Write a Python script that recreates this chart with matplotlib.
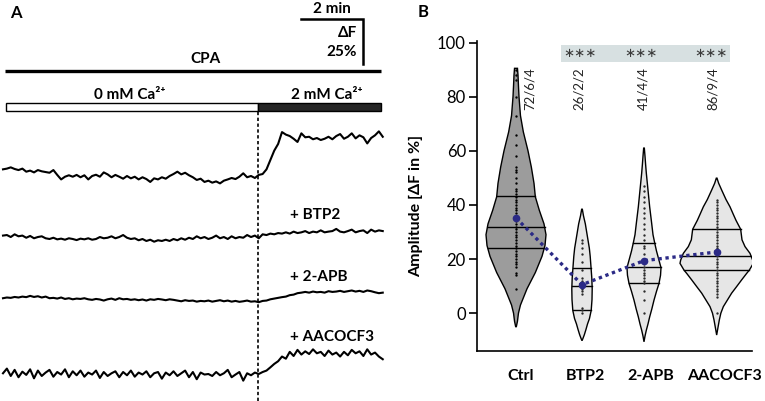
import numpy as np
import matplotlib
matplotlib.use('Agg')
import matplotlib.pyplot as plt
from matplotlib.patches import Rectangle

plt.rcParams['font.family'] = ['Lato', 'DejaVu Sans']

# ---------------- panel A: example traces (dF in %, sampled every 0.125 min)
dt = 0.125
ca_switch = 8.235  # min

trace_ctrl = [0, 0.4, 1.1, 0.2, -0.4, 0.4, -1.3, -0.7, -1.7, -0.4, -1.1, -1.5, -1.9, -0.4, -3.1,
              -5.6, -4.1, -3.3, -4.1, -3.1, -4.4, -3.3, -5.6, -3.7, -3.0, -4.1, -1.7, -2.8, -4.4,
              -3.1, -4.1, -5.2, -3.7, -5.0, -4.1, -5.6, -4.4, -5.4, -7.0, -5.0, -5.6, -4.4, -5.2,
              -3.7, -2.6, -1.3, -2.8, -1.9, -3.3, -4.4, -5.9, -5.2, -7.0, -6.3, -7.4, -6.7, -7.8,
              -6.3, -5.6, -4.8, -5.4, -4.1, -2.2, -4.4, -3.7, -4.8, -3.1, -2.6, 0, 5.2, 10.4, 14.1,
              20.7, 19.3, 18.5, 17.0, 15.2, 20.0, 17.8, 18.1, 16.7, 17.4, 16.3, 17.0, 18.1, 16.7,
              18.5, 19.6, 17.0, 18.1, 20.0, 17.2, 18.9, 17.8, 14.4, 17.4, 18.9, 21.1, 18.1]
trace_btp2 = [0.6, 0.9, -0.2, 1.3, 0.2, 0.6, -0.6, 0.4, -0.9, -0.2, 0.2, -0.9, -1.3, -0.6, -1.5,
              -1.1, -1.7, -0.9, -1.3, -1.9, -1.1, -1.5, -0.9, -1.7, -1.3, -0.2, -0.9, -0.6, 0.2,
              -0.9, -0.2, 0.9, -0.6, -1.3, -0.9, -2.0, -1.3, -2.4, -1.7, -2.8, -2.0, -2.4, -1.7,
              -2.4, -1.3, -2.0, -0.9, -1.7, -0.6, -1.3, 0.2, -0.9, -0.2, -1.3, -0.6, 0.6, -0.9,
              -0.2, -1.3, 0.2, -0.9, -0.2, -0.6, 0.9, -0.2, 0.6, -0.9, 1.3, 0.9, 1.7, 1.3, 2.0,
              1.7, 2.4, 1.7, 2.8, 2.0, 2.4, 3.1, 2.0, 2.8, 2.4, 3.5, 2.4, 2.8, 3.1, 4.3, 2.8, 2.4,
              3.1, 3.9, 2.4, 3.1, 3.5, 2.0, 3.9, 2.8, 3.5, 3.1]
trace_2apb = [0, 0.4, 0.2, 0.7, 0.4, 0.9, 0.6, 1.3, 0.7, 1.1, 0.4, 0.9, 0, 0.2, -0.2, 0.4, -0.4,
              0, -0.6, -0.2, -0.4, 0, -0.6, -0.9, -0.4, -0.7, -1.3, -0.6, -0.2, -0.9, 0, -0.6,
              -0.4, -0.9, -0.6, -1.1, -0.7, -1.3, -0.6, -0.9, -0.4, -0.7, -1.1, -0.6, -0.9, -1.3,
              -1.7, -1.1, -1.5, -1.3, -1.9, -1.5, -1.7, -1.3, -1.9, -1.5, -1.1, -1.7, -1.3, -1.9,
              -1.5, -2.0, -1.7, -1.3, -1.9, -1.7, -2.2, -1.5, -1.3, -0.6, -0.2, 0.2, 0.6, 0.9,
              1.7, 2.0, 2.8, 3.1, 3.5, 3.1, 3.7, 3.3, 3.5, 3.1, 3.9, 3.5, 3.7, 4.1, 3.5, 3.9, 4.3,
              3.7, 4.1, 3.5, 4.3, 3.9, 3.3, 2.8, 3.1]
trace_aacocf3 = [0, 2.6, -1.5, 1.9, -2.2, 0.9, -0.9, 2.2, -2.8, 1.5, -1.5, 0.4, 1.9, -1.9, 0.7,
                 -0.7, 2.2, -2.2, 1.1, -1.1, 1.5, -1.9, 0.4, -0.7, 1.5, -2.6, 0.7, -1.5, 0, 1.1,
                 -2.2, 0.7, -1.1, 1.5, -1.9, 0.4, -0.7, 1.1, -2.2, 0, 0.7, -3.0, 0.4, -1.1, 1.1,
                 -1.5, 0, 1.5, -2.2, 0.7, -3.3, 0.4, -0.7, -0.4, -1.5, 0.7, -1.1, 0, 1.9, -2.2,
                 -0.7, 0.7, -4.1, 0, -1.1, 0.4, -0.4, 0.7, 1.5, 3.3, 5.2, 6.7, 9.3, 8.1, 11.9, 9.6,
                 13.0, 10.4, 12.2, 10.7, 13.3, 11.1, 11.9, 9.6, 12.6, 10.4, 11.5, 9.3, 11.9, 10.0,
                 13.0, 11.1, 12.2, 9.6, 13.3, 10.4, 11.5, 9.3, 7.8]
trace_labels = ['', '+ BTP2', '+ 2-APB', '+ AACOCF3']

# ---------------- panel B: amplitudes
groups = ['Ctrl', 'BTP2', '2-APB', 'AACOCF3']
n_labels = ['72/6/4', '26/2/2', '41/4/4', '86/9/4']
means = [35.2, 10.5, 19.4, 22.6]
q1 = [24.0, 1.2, 11.0, 15.9]
medians = [32.0, 10.0, 16.9, 21.1]
q3 = [43.2, 16.8, 26.0, 31.0]

# violin outlines: level (%) and half width
ctrl_y = [90.5, 88, 84, 80, 73, 67, 60, 54, 48, 43, 38, 33, 29, 25, 21, 15, 9, 3, 0, -3, -5]
ctrl_w = [0.022, 0.03, 0.037, 0.045, 0.067, 0.11, 0.18, 0.23, 0.27, 0.29, 0.35, 0.42, 0.45,
          0.435, 0.39, 0.29, 0.165, 0.067, 0.037, 0.022, 0.005]
btp2_y = [38.4, 36, 33, 30, 27, 24, 21, 17, 13, 9, 5, 1, -2, -4, -6, -8, -9.5, -10.2]
btp2_w = [0.005, 0.022, 0.05, 0.07, 0.09, 0.11, 0.123, 0.135, 0.147, 0.153, 0.15, 0.138,
          0.112, 0.083, 0.06, 0.035, 0.012, 0.0]
apb_y = [61, 58, 55, 51.7, 45.5, 39.3, 33.2, 29, 26, 23, 20.9, 16.8, 14, 11, 8, 4.8, 1.5, -1.4,
         -4, -6.3, -8.5, -10.6]
apb_w = [0.005, 0.015, 0.024, 0.035, 0.06, 0.085, 0.115, 0.135, 0.16, 0.187, 0.21, 0.255, 0.248,
         0.225, 0.187, 0.15, 0.117, 0.085, 0.06, 0.035, 0.015, 0.0]
aac_y = [49.9, 48, 45.5, 42, 39.3, 36.5, 34.3, 31, 27.1, 24.6, 22.1, 19.6, 18.4, 15.9, 14.7,
         12.3, 9.5, 7.4, 5, 2.4, 0, -2.5, -5, -8.1]
aac_w = [0.005, 0.03, 0.075, 0.14, 0.2, 0.25, 0.29, 0.36, 0.38, 0.425, 0.5, 0.54, 0.55, 0.49,
         0.45, 0.375, 0.29, 0.225, 0.165, 0.1, 0.063, 0.04, 0.022, 0.0]

dots_ctrl = [9, 14, 15, 17, 18, 19, 20, 21, 22, 23, 24, 25, 26, 27, 28, 29, 30, 31, 32, 33, 34,
             35, 36, 37, 38, 39, 40, 41, 42, 43, 44, 45, 46, 48, 50, 52, 53, 54, 58, 62, 66, 73,
             80, 86, 88, 90]
dots_btp2 = [0, 1, 2, 7, 8, 9, 10, 11, 12, 13, 16, 19, 22, 24, 26, 27]
dots_apb = [0, 5, 8, 11, 12, 13, 14, 15, 16, 17, 18, 19, 20, 22, 24, 25, 27, 29, 31, 33, 35, 37,
            39, 41, 43, 45, 47]
dots_aac = [0, 6, 7, 8, 9, 10, 11, 12, 13, 14, 15, 16, 17, 18, 19, 20, 21, 22, 23, 24, 25, 26,
            27, 28, 29, 30, 31, 32, 33, 34, 35, 36, 37, 38, 39, 40, 41, 42]

fig = plt.figure(figsize=(7.65, 4.01), dpi=100)

# ================= A
ax = fig.add_axes([0, 0, 390 / 765, 1])
ax.set_xlim(-3 / 31, 387 / 31)
ax.set_ylim(0, 401 / 1.8)
ax.axis('off')

offsets = [128.7, 91.3, 57.1, 15.4]
label_y = [None, 103.3, 69.1, 35.7]
traces = [trace_ctrl, trace_btp2, trace_2apb, trace_aacocf3]
for tr, off, lab, ly in zip(traces, offsets, trace_labels, label_y):
    t = np.arange(len(tr)) * dt
    ax.plot(t, np.array(tr) + off, color='black', lw=1.5)
    if lab:
        ax.text(9.26, ly, lab, fontsize=11, fontweight='bold', va='center', ha='left')

ax.plot([ca_switch, ca_switch], [0, 161.1], color='black', lw=1.2, ls=(0, (2, 1.5)))

# CPA bar
ax.plot([0.065, 12.19], [183.5, 183.5], color='black', lw=2.4, solid_capstyle='butt')
ax.text(6.52, 188, 'CPA', fontsize=11, fontweight='bold', ha='center', va='baseline')
# Ca bars
ax.add_patch(Rectangle((0.1, 161.1), ca_switch - 0.1, 4.3, fc='white', ec='black', lw=1))
ax.add_patch(Rectangle((ca_switch, 161.1), 12.19 - ca_switch, 4.3, fc='#262626', ec='black', lw=1))
ax.text(4.1, 167.8, '0 mM Ca²⁺', fontsize=11, fontweight='bold', ha='center', va='baseline')
ax.text(10.45, 167.8, '2 mM Ca²⁺', fontsize=11, fontweight='bold', ha='center', va='baseline')

# scale bar
ax.plot([9.61, 11.61, 11.61], [212.4, 212.4, 187.4], color='black', lw=1.8,
        solid_joinstyle='miter')
ax.text(10.6, 215.8, '2 min', fontsize=11, fontweight='bold', ha='center', va='baseline')
ax.text(11.42, 204.4, 'ΔF', fontsize=11, fontweight='bold', ha='right', va='center')
ax.text(11.42, 193.9, '25%', fontsize=11, fontweight='bold', ha='right', va='center')

fig.text(10 / 765, 1 - 13 / 401, 'A', fontsize=12, fontweight='bold', va='center')
fig.text(418 / 765, 1 - 12 / 401, 'B', fontsize=12, fontweight='bold', va='center')

# ================= B
bx = fig.add_axes([477 / 765, 1 - 351 / 401, 275 / 765, 310 / 401])
pos = [1.0, 1.99, 2.92, 4.01]
bx.set_xlim(0.415, 4.54)
bx.set_ylim(-14, 100.6)
for s in ['top', 'right']:
    bx.spines[s].set_visible(False)
bx.spines['left'].set_linewidth(1.2)
bx.spines['bottom'].set_linewidth(1.2)

profiles = [(ctrl_y, ctrl_w), (btp2_y, btp2_w), (apb_y, apb_w), (aac_y, aac_w)]
dots = [dots_ctrl, dots_btp2, dots_apb, dots_aac]
fills = ['#9c9c9c', '#e6e6e6', '#e6e6e6', '#e6e6e6']
dot_cols = ['black', '#2a2a2a', '#2a2a2a', '#2a2a2a']
for i, (py, pw) in enumerate(profiles):
    y = np.array(py)
    w = np.array(pw)
    xs = np.concatenate([pos[i] - w, (pos[i] + w)[::-1]])
    ys = np.concatenate([y, y[::-1]])
    bx.fill(xs, ys, fc=fills[i], ec='black', lw=1.0, zorder=2)
    for q in (q1[i], medians[i], q3[i]):
        hw = np.interp(q, y[::-1], w[::-1])
        bx.plot([pos[i] - hw, pos[i] + hw], [q, q], color='black', lw=1.0, zorder=3)
    bx.plot([pos[i]] * len(dots[i]), dots[i], ls='none', marker='o', ms=1.7, mew=0,
            color=dot_cols[i], zorder=4)

navy = '#2b2a86'
bx.plot(pos, means, color=navy, lw=2.4, ls=(0, (1, 1.1)), zorder=5)
bx.plot(pos, means, ls='none', marker='o', ms=4.5, color=navy, zorder=6)

# significance box
bx.add_patch(Rectangle((1.67, 92.7), 2.54, 6.6, fc='#d7e0e1', ec='none', zorder=1))
star_x = [1.96, 2.88, 3.93]
for sx in star_x:
    bx.text(sx, 95.9, '∗∗∗', fontsize=9.5, family='DejaVu Sans', color='#3a3a3a',
            ha='center', va='center')

n_x = [1.21, 1.945, 2.905, 3.955]
for nx, lab in zip(n_x, n_labels):
    bx.text(nx, 91, lab, rotation=90, fontsize=9.5, color='#222222', ha='center', va='top')

bx.set_yticks([0, 20, 40, 60, 80, 100])
bx.tick_params(axis='y', direction='out', length=6, width=1.2, labelsize=12, pad=2)
bx.set_xticks([1.07, 2.04, 3.02, 4.12])
bx.set_xticklabels(groups, fontweight='bold', fontsize=11.5)
bx.tick_params(axis='x', length=0, pad=13)
bx.set_ylabel('Amplitude [ΔF in %]', fontsize=11.5, fontweight='bold')
bx.yaxis.set_label_coords(-0.196, 0.468)

fig.savefig('out.png', dpi=100)
